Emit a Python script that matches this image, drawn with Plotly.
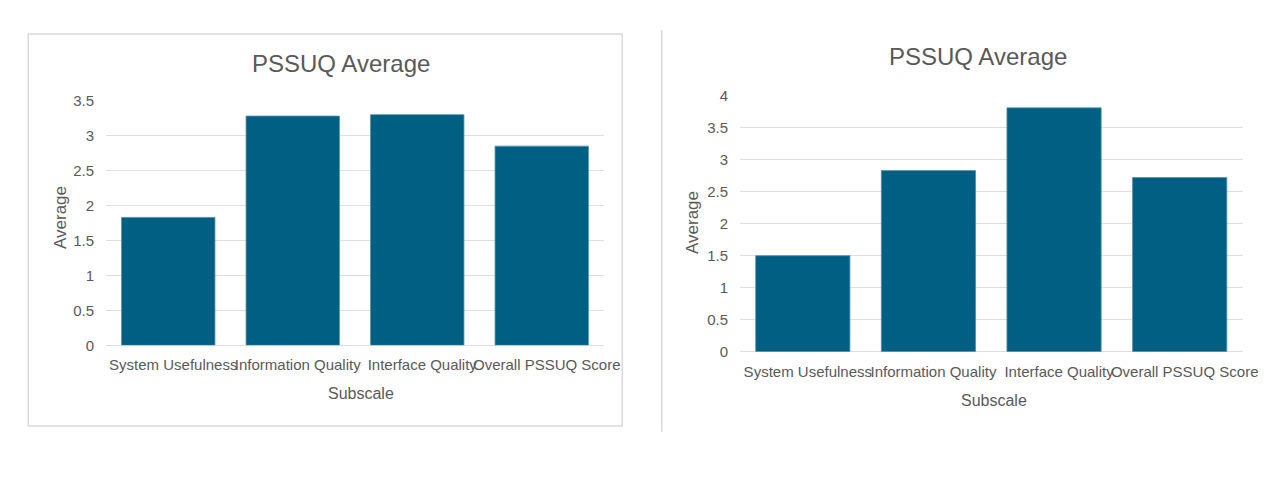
import plotly.graph_objects as go

categories = ["System Usefulness", "Information Quality", "Interface Quality", "Overall PSSUQ Score"]
left_values = [1.83, 3.28, 3.30, 2.85]
right_values = [1.50, 2.83, 3.81, 2.72]
left_ticks = [0, 0.5, 1, 1.5, 2, 2.5, 3, 3.5]
right_ticks = [0, 0.5, 1, 1.5, 2, 2.5, 3, 3.5, 4]
chart_title = "PSSUQ Average"
x_title = "Subscale"
y_title = "Average"

W, H = 1284, 486
BAR = "#005F83"
TXT = "#595959"
GRID = "#DEDEDE"
FONT = "Liberation Sans, Arial, sans-serif"

def px(x):
    return x / W

def py(y):
    return 1 - y / H

fig = go.Figure()
fig.add_trace(go.Bar(x=categories, y=left_values, marker=dict(color=BAR, line=dict(width=0.8, color="#4f8fab")),
                     xaxis="x", yaxis="y", showlegend=False, hoverinfo="x+y"))
fig.add_trace(go.Bar(x=categories, y=right_values, marker=dict(color=BAR, line=dict(width=0.8, color="#4f8fab")),
                     xaxis="x2", yaxis="y2", showlegend=False, hoverinfo="x+y"))

xcommon = dict(type="category", tickangle=0, showgrid=False, zeroline=False, showline=False,
               automargin=False,
               ticks="outside", ticklen=6, tickcolor="rgba(0,0,0,0)", ticklabelshift=5,
               tickfont=dict(family=FONT, size=15, color=TXT), fixedrange=True)
ycommon = dict(showgrid=True, gridcolor=GRID, gridwidth=1, zeroline=True, zerolinecolor=GRID,
               zerolinewidth=1, showline=False, ticks="outside", ticklen=8, automargin=False,
               tickcolor="rgba(0,0,0,0)", tickfont=dict(family=FONT, size=15, color=TXT),
               fixedrange=True)

fig.update_layout(
    width=W, height=H,
    margin=dict(l=0, r=0, t=0, b=0, autoexpand=False),
    paper_bgcolor="white", plot_bgcolor="white",
    bargap=0.25,
    font=dict(family=FONT, color=TXT),
    xaxis=dict(domain=[px(106), px(604)], anchor="y", **xcommon),
    yaxis=dict(domain=[py(345.3), py(100.7)], anchor="x", range=[0, 3.5],
               tickvals=left_ticks, ticktext=[f"{t:g}" for t in left_ticks], **ycommon),
    xaxis2=dict(domain=[px(740), px(1242.5)], anchor="y2", **xcommon),
    yaxis2=dict(domain=[py(351.7), py(95.7)], anchor="x2", range=[0, 4],
                tickvals=right_ticks, ticktext=[f"{t:g}" for t in right_ticks], **ycommon),
    shapes=[
        dict(type="rect", xref="paper", yref="paper", x0=px(28.3), x1=px(622.3), y0=py(426), y1=py(34),
             line=dict(color="#D9D9D9", width=1.5), fillcolor="rgba(0,0,0,0)", layer="below"),
        dict(type="line", xref="paper", yref="paper", x0=px(661.7), x1=px(661.7), y0=py(431.7), y1=py(30),
             line=dict(color="#D9D9D9", width=1.5), layer="below"),
    ],
    annotations=[
        dict(text=chart_title, x=px(341), y=py(63), xref="paper", yref="paper", showarrow=False,
             xanchor="center", yanchor="middle", font=dict(family=FONT, size=24, color=TXT)),
        dict(text=chart_title, x=px(978), y=py(57), xref="paper", yref="paper", showarrow=False,
             xanchor="center", yanchor="middle", font=dict(family=FONT, size=24, color=TXT)),
        dict(text=x_title, x=px(361), y=py(393), xref="paper", yref="paper", showarrow=False,
             xanchor="center", yanchor="middle", font=dict(family=FONT, size=16, color=TXT)),
        dict(text=x_title, x=px(994), y=py(400), xref="paper", yref="paper", showarrow=False,
             xanchor="center", yanchor="middle", font=dict(family=FONT, size=16, color=TXT)),
        dict(text=y_title, x=px(60), y=py(218), xref="paper", yref="paper", showarrow=False, textangle=-90,
             xanchor="center", yanchor="middle", font=dict(family=FONT, size=17, color=TXT)),
        dict(text=y_title, x=px(693), y=py(223), xref="paper", yref="paper", showarrow=False, textangle=-90,
             xanchor="center", yanchor="middle", font=dict(family=FONT, size=17, color=TXT)),
    ],
)

fig.write_html(
    "out.html",
    config={"displayModeBar": False},
    post_script="document.documentElement.style.margin='0';document.body.style.margin='0';"
                "document.documentElement.style.overflow='hidden';document.body.style.overflow='hidden';",
)
